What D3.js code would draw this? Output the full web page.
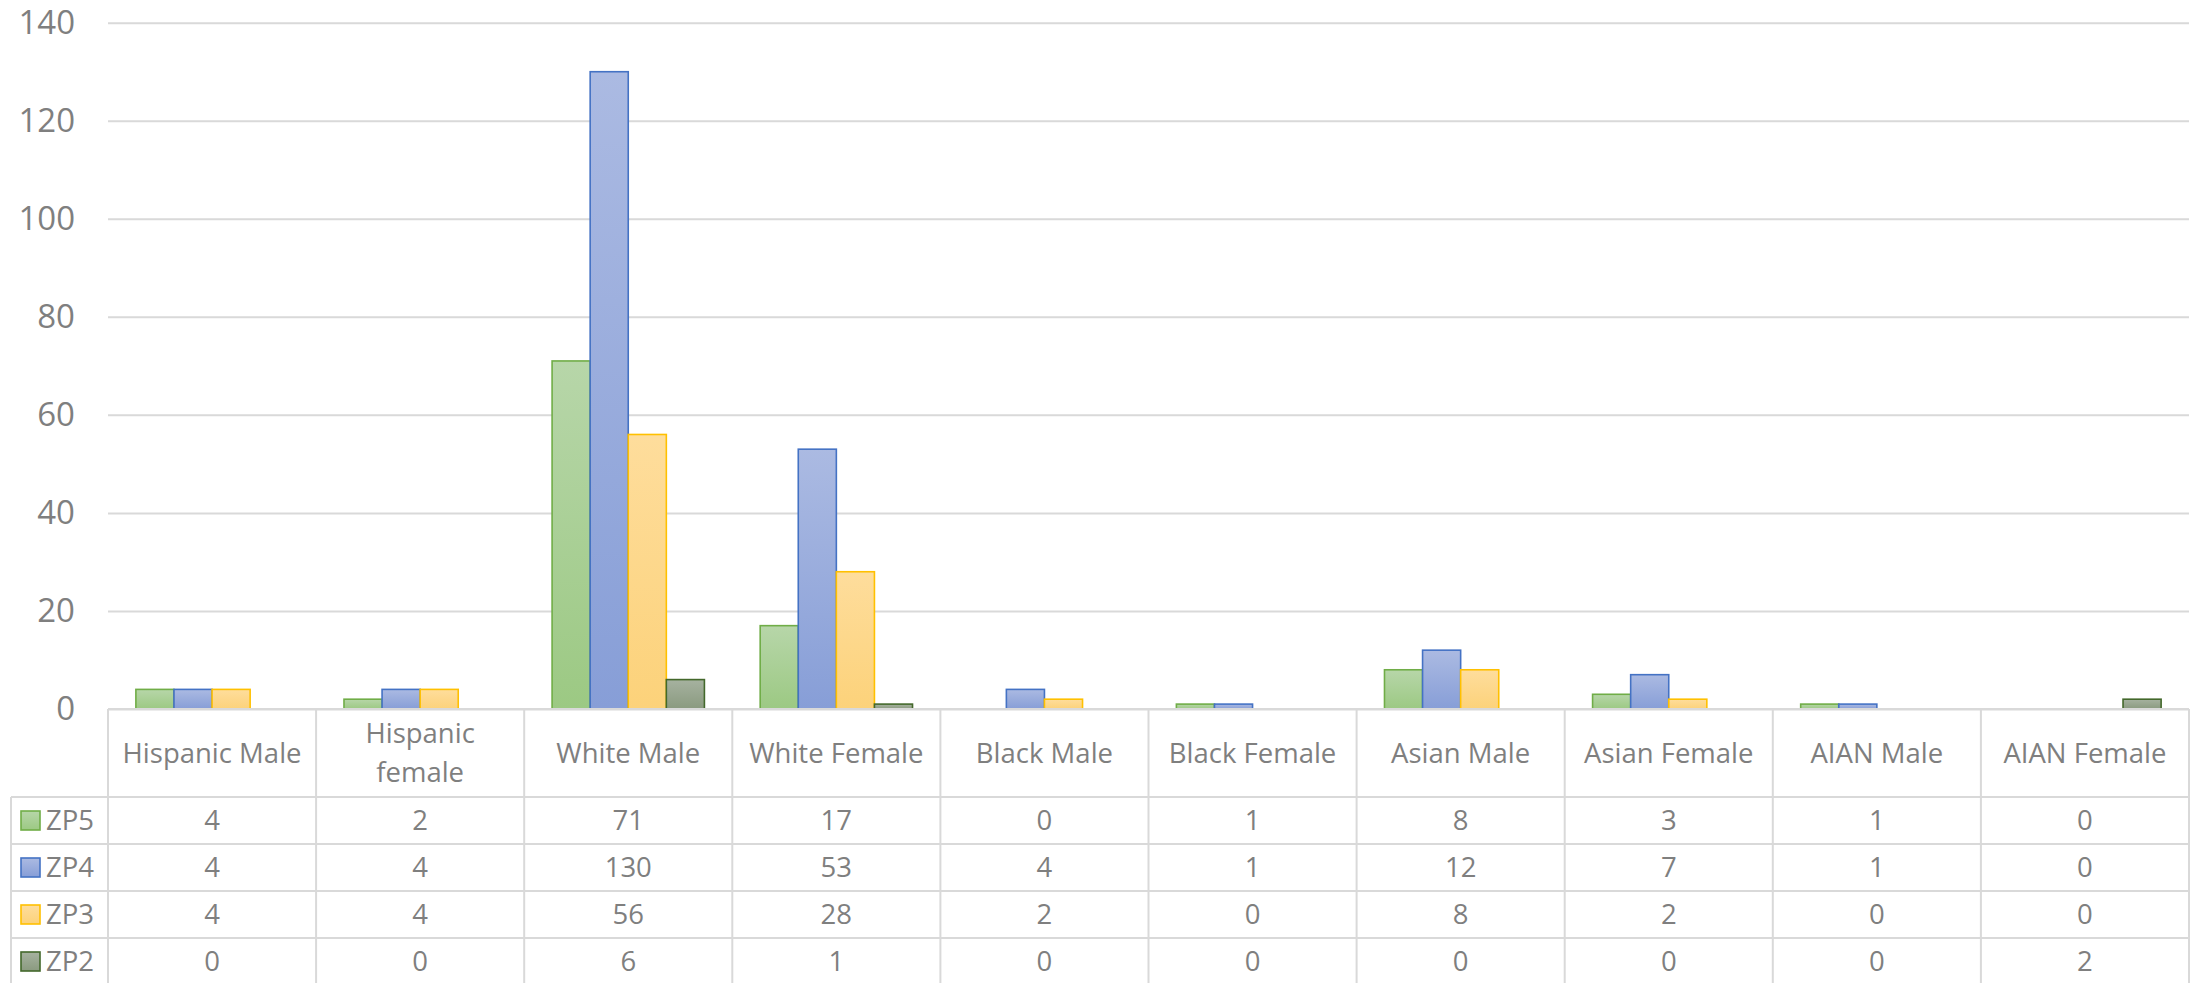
<!DOCTYPE html>
<html>
<head>
<meta charset="utf-8">
<script src="https://cdn.jsdelivr.net/npm/d3@7"></script>
<style>
	html, body { margin: 0; padding: 0; background: #fff; }
	svg { display: block; }
	text { font-family: "Open Sans", sans-serif; fill: #7f7f7f; }
</style>
</head>
<body>
<svg width="2208" height="983"></svg>
<script>
const categories = ["Hispanic Male", "Hispanic female", "White Male", "White Female", "Black Male",
	"Black Female", "Asian Male", "Asian Female", "AIAN Male", "AIAN Female"];
const seriesNames = ["ZP5", "ZP4", "ZP3", "ZP2"];
const zp5 = [4, 2, 71, 17, 0, 1, 8, 3, 1, 0];
const zp4 = [4, 4, 130, 53, 4, 1, 12, 7, 1, 0];
const zp3 = [4, 4, 56, 28, 2, 0, 8, 2, 0, 0];
const zp2 = [0, 0, 6, 1, 0, 0, 0, 0, 0, 2];
const yTicks = [0, 20, 40, 60, 80, 100, 120, 140];

const seriesValues = [zp5, zp4, zp3, zp2];

// kleuren: rand, verloop boven, verloop onder
const stijl = {
	ZP5: { stroke: "#70ad47", top: "#b7d6a9", bottom: "#9cc983" },
	ZP4: { stroke: "#4472c4", top: "#abbae2", bottom: "#879ed7" },
	ZP3: { stroke: "#ffc000", top: "#fedd9c", bottom: "#fcd27a" },
	ZP2: { stroke: "#43682b", top: "#a6b2a0", bottom: "#8a9a7f" }
};

const svg = d3.select("svg");
const margin = { left: 108, right: 19, top: 22.7, axis: 709 };
const plotRight = 2208 - margin.right;

const x = d3.scaleBand(categories, [margin.left, plotRight]);
const sideGap = x.bandwidth() * 0.134;
const xs = d3.scaleBand(seriesNames, [sideGap, x.bandwidth() - sideGap]);
const y = d3.scaleLinear([0, 140], [margin.axis, margin.top]);

const defs = svg.append("defs");
seriesNames.forEach(s => {
	const g = defs.append("linearGradient")
		.attr("id", "grad-" + s)
		.attr("x1", 0).attr("y1", 0).attr("x2", 0).attr("y2", 1);
	g.append("stop").attr("offset", "0%").attr("stop-color", stijl[s].top);
	g.append("stop").attr("offset", "100%").attr("stop-color", stijl[s].bottom);
});

// gridlijnen + y labels
const yAxis = d3.axisLeft(y)
	.tickValues(yTicks)
	.tickSize(-(plotRight - margin.left))
	.tickPadding(33);

const gY = svg.append("g")
	.attr("transform", `translate(${margin.left},0)`)
	.call(yAxis);
gY.select(".domain").remove();
gY.selectAll(".tick line").attr("stroke", "#d9d9d9").attr("stroke-width", 2);
gY.selectAll(".tick text")
	.attr("fill", "#7f7f7f")
	.style("font-family", "'Open Sans', sans-serif")
	.style("font-size", "33px");

// staven
const bars = seriesNames.map((s, i) =>
	categories.map((c, j) => ({ serie: s, cat: c, value: seriesValues[i][j] })));

svg.append("g")
	.selectAll("g")
	.data(bars)
	.join("g")
	.selectAll("rect")
	.data(d => d.filter(v => v.value > 0))
	.join("rect")
	.attr("x", d => x(d.cat) + xs(d.serie))
	.attr("y", d => y(d.value))
	.attr("width", xs.bandwidth())
	.attr("height", d => y(0) - y(d.value))
	.attr("fill", d => `url(#grad-${d.serie})`)
	.attr("stroke", d => stijl[d.serie].stroke)
	.attr("stroke-width", 1.6);

// datatabel
const headerBottom = 797;
const rowH = 47;
const tableLeft = 11;
const rowY = d3.scaleBand(seriesNames, [headerBottom, headerBottom + rowH * seriesNames.length]);

const table = svg.append("g").attr("class", "table");
const lineColor = "#d9d9d9";

// horizontale lijnen
table.selectAll("line.h")
	.data(seriesNames)
	.join("line")
	.attr("class", "h")
	.attr("x1", tableLeft).attr("x2", plotRight)
	.attr("y1", d => rowY(d)).attr("y2", d => rowY(d))
	.attr("stroke", lineColor).attr("stroke-width", 2);

// verticale lijnen
const vLines = categories.map(c => x(c)).concat([plotRight]);
table.selectAll("line.v")
	.data(vLines)
	.join("line")
	.attr("class", "v")
	.attr("x1", d => d).attr("x2", d => d)
	.attr("y1", margin.axis).attr("y2", 990)
	.attr("stroke", lineColor).attr("stroke-width", 2);

table.append("line")
	.attr("x1", tableLeft).attr("x2", tableLeft)
	.attr("y1", headerBottom).attr("y2", 990)
	.attr("stroke", lineColor).attr("stroke-width", 2);

// x-as lijn
svg.append("line")
	.attr("x1", margin.left).attr("x2", plotRight)
	.attr("y1", margin.axis).attr("y2", margin.axis)
	.attr("stroke", lineColor).attr("stroke-width", 2);

// categorie koppen
const headerMid = (margin.axis + headerBottom) / 2;
table.selectAll("text.cat")
	.data(categories)
	.join("text")
	.attr("class", "cat")
	.attr("text-anchor", "middle")
	.style("font-size", "27.5px")
	.each(function (d) {
		const lines = d === "Hispanic female" ? ["Hispanic", "female"] : [d];
		const t = d3.select(this);
		const cx = x(d) + x.bandwidth() / 2;
		lines.forEach((l, i) => {
			t.append("tspan")
				.attr("x", cx)
				.attr("y", headerMid + (i - (lines.length - 1) / 2) * 39)
				.attr("dy", "0.35em")
				.text(l);
		});
	});

// legenda in tabel
const legend = table.selectAll("g.leg")
	.data(seriesNames)
	.join("g")
	.attr("class", "leg")
	.attr("transform", d => `translate(0,${rowY(d) + rowH / 2})`);

legend.append("rect")
	.attr("x", 21).attr("y", -9.5)
	.attr("width", 19).attr("height", 19)
	.attr("fill", d => `url(#grad-${d})`)
	.attr("stroke", d => stijl[d].stroke)
	.attr("stroke-width", 1.6);

legend.append("text")
	.attr("x", 46).attr("dy", "0.35em")
	.style("font-size", "27.5px")
	.text(d => d);

// waarden
bars.forEach((rij, i) => {
	table.append("g")
		.selectAll("text")
		.data(rij)
		.join("text")
		.attr("x", d => x(d.cat) + x.bandwidth() / 2)
		.attr("y", rowY(seriesNames[i]) + rowH / 2)
		.attr("dy", "0.35em")
		.attr("text-anchor", "middle")
		.style("font-size", "27.5px")
		.text(d => d.value);
});
</script>
</body>
</html>
